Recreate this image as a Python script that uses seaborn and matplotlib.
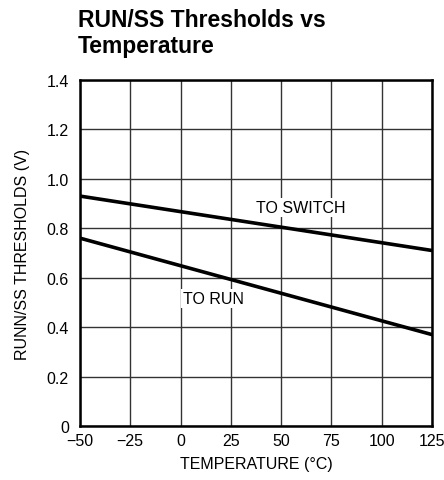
import matplotlib.pyplot as plt
import pandas as pd
import seaborn as sns

# readings (end points of two straight lines)
temperature = [-50, 125]
to_switch = [0.93, 0.71]
to_run = [0.76, 0.37]

x_ticks = [-50, -25, 0, 25, 50, 75, 100, 125]
x_tick_labels = ["\u221250", "\u221225", "0", "25", "50", "75", "100", "125"]
y_ticks = [0, 0.2, 0.4, 0.6, 0.8, 1.0, 1.2, 1.4]
y_tick_labels = ["0", "0.2", "0.4", "0.6", "0.8", "1.0", "1.2", "1.4"]

sns.set_style("white")
plt.rcParams["font.family"] = ["Liberation Sans Narrow", "Liberation Sans", "DejaVu Sans"]
plt.rcParams["text.color"] = "black"
plt.rcParams["axes.labelcolor"] = "black"
plt.rcParams["xtick.color"] = "black"
plt.rcParams["ytick.color"] = "black"

df = pd.DataFrame({
    "temp": temperature * 2,
    "volts": to_switch + to_run,
    "curve": ["TO SWITCH"] * 2 + ["TO RUN"] * 2,
})

fig = plt.figure(figsize=(4.44, 4.81), dpi=100)
ax = fig.add_axes([0.180, 0.112, 0.793, 0.720])

sns.lineplot(data=df, x="temp", y="volts", units="curve", estimator=None,
             color="black", linewidth=2.6, ax=ax, legend=False, zorder=4)

ax.set_xlim(-50, 125)
ax.set_ylim(0, 1.4)
ax.set_xticks(x_ticks)
ax.set_xticklabels(x_tick_labels)
ax.set_yticks(y_ticks)
ax.set_yticklabels(y_tick_labels)
ax.tick_params(axis="both", length=0, labelsize=11.5, colors="black")
ax.tick_params(axis="y", pad=8)
ax.tick_params(axis="x", pad=5)
ax.grid(True, color="#333333", linewidth=1.0)
for s in ax.spines.values():
    s.set_color("black")
    s.set_linewidth(1.8)
    s.set_zorder(5)

ax.set_xlabel("TEMPERATURE (\u00b0C)", fontsize=11.5, labelpad=6)
ax.set_ylabel("RUNN/SS THRESHOLDS (V)", fontsize=11.5, labelpad=12)

ax.text(60, 0.885, "TO SWITCH", fontsize=11.5, ha="center", va="center",
        bbox=dict(facecolor="white", edgecolor="none", pad=1.5), zorder=3)
ax.text(16.5, 0.515, "TO RUN", fontsize=11.5, ha="center", va="center",
        bbox=dict(facecolor="white", edgecolor="none", pad=1.5), zorder=3)

fig.text(78 / 444, 1 - 9 / 481, "RUN/SS Thresholds vs\nTemperature",
         fontsize=16.5, fontweight="bold", ha="left", va="top", linespacing=1.15)

fig.savefig("out.png", dpi=100)
